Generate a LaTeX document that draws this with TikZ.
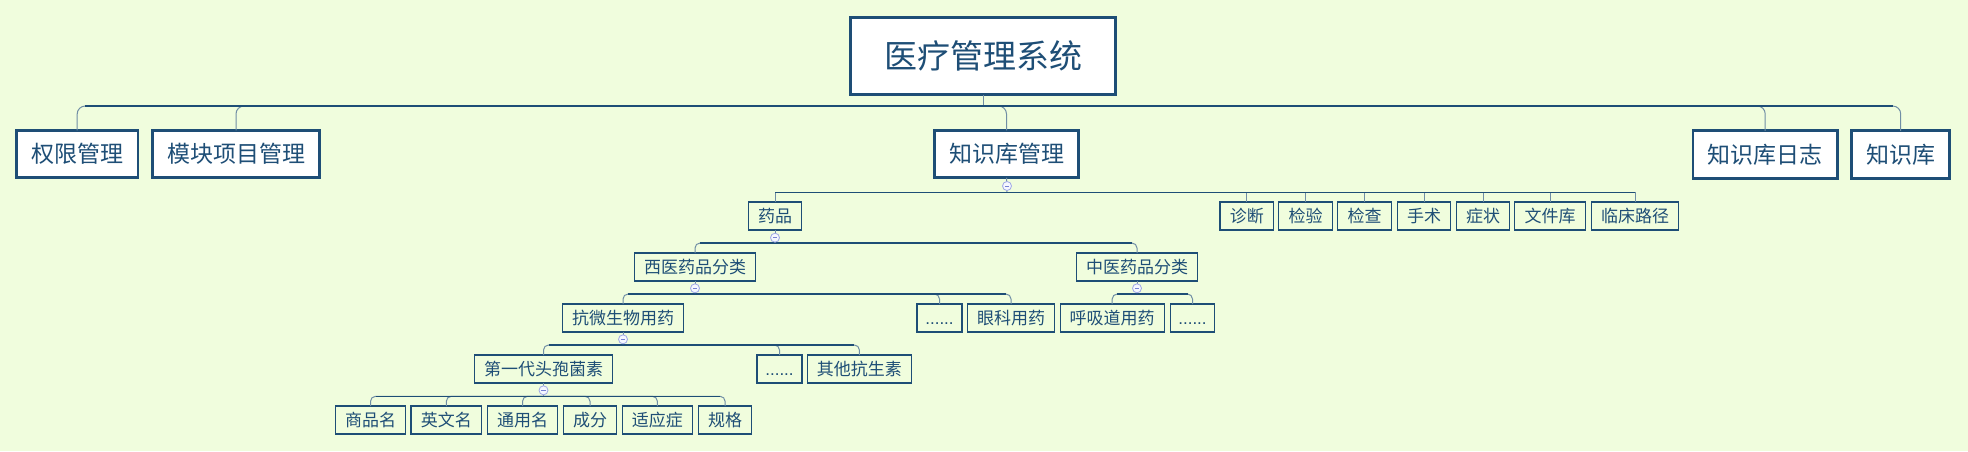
\documentclass[tikz,border=0pt]{standalone}
\usepackage{fontspec}
\setmainfont{Noto Sans CJK SC}
\newfontfamily\latinf{Liberation Sans}
\usetikzlibrary{calc}
\definecolor{bg}{RGB}{240,253,221}
\definecolor{dk}{RGB}{30,78,118}
\definecolor{stemc}{RGB}{112,142,165}
\definecolor{tgl}{RGB}{160,168,230}
\definecolor{tglfill}{RGB}{245,247,255}
\definecolor{tglbar}{RGB}{120,130,210}
\begin{document}
\begin{tikzpicture}[x=1pt,y=-1pt,
  rootbox/.style={draw=dk,line width=3pt,fill=white,text=dk,font=\fontsize{33}{40}\selectfont,minimum width=265pt,minimum height=77pt,inner sep=0pt,outer sep=0pt},
  topbox/.style={draw=dk,line width=2.6pt,fill=white,text=dk,font=\fontsize{23}{28}\selectfont,minimum height=47.5pt,inner sep=0pt,outer sep=0pt},
  leafbox/.style={draw=dk,line width=1.1pt,text=dk,font=\fontsize{17}{20}\selectfont,minimum height=28pt,inner sep=0pt,outer sep=0pt,text height=15pt,text depth=2pt},
  stem/.style={draw=stemc,line width=1pt},
  bus/.style={draw=dk,line width=1.5pt},
  toggle/.style={circle,draw=tgl,fill=tglfill,line width=0.8pt,minimum size=9pt,inner sep=0pt,
    path picture={\draw[tglbar,line width=1pt] ([xshift=-2.2pt]path picture bounding box.center) -- ([xshift=2.2pt]path picture bounding box.center);}},
]
\fill[bg] (0,0) rectangle (1968,451);
\useasboundingbox (0,0) rectangle (1968,451);

% ---------- nodes ----------
\node[rootbox] (root) at (983,56) {医疗管理系统};

\node[topbox,minimum width=121.5pt] (qx)  at (77.2,154)  {权限管理};
\node[topbox,minimum width=166.5pt] (mk)  at (236,154)   {模块项目管理};
\node[topbox,minimum width=144.5pt] (zsk) at (1006.5,154){知识库管理};
\node[topbox,minimum width=144.5pt] (rz)  at (1765.2,154.5){知识库日志};
\node[topbox,minimum width=98pt]    (zs)  at (1900.7,154.5){知识库};

\node[leafbox,minimum width=53.7pt] (yp)   at (775,216)    {药品};
\node[leafbox,minimum width=53.7pt] (zd)   at (1246.8,216) {诊断};
\node[leafbox,minimum width=53.7pt] (jy)   at (1305.5,216) {检验};
\node[leafbox,minimum width=53.7pt] (jc)   at (1364.5,216) {检查};
\node[leafbox,minimum width=53.7pt] (ss)   at (1424,216)   {手术};
\node[leafbox,minimum width=53.7pt] (zz)   at (1483,216)   {症状};
\node[leafbox,minimum width=70.7pt] (wjk)  at (1550,216)   {文件库};
\node[leafbox,minimum width=87.7pt] (lclj) at (1635,216)   {临床路径};

\node[leafbox,minimum width=121.7pt] (xy) at (695,267)  {西医药品分类};
\node[leafbox,minimum width=121.2pt] (zy) at (1137,267) {中医药品分类};

\node[leafbox,minimum width=121.7pt] (kw) at (623,318)    {抗微生物用药};
\node[leafbox,minimum width=45pt]    (d1) at (939.5,318)  {\latinf ......};
\node[leafbox,minimum width=87.8pt]  (yk) at (1011,318)   {眼科用药};
\node[leafbox,minimum width=104.3pt] (hx) at (1112.2,318) {呼吸道用药};
\node[leafbox,minimum width=44.3pt]  (d2) at (1192.5,318) {\latinf ......};

\node[leafbox,minimum width=138.7pt] (dyd) at (543.5,369) {第一代头孢菌素};
\node[leafbox,minimum width=45pt]    (d3)  at (779.5,369) {\latinf ......};
\node[leafbox,minimum width=104.7pt] (qt)  at (859.4,369) {其他抗生素};

\node[leafbox,minimum width=70.7pt] (spm) at (370.5,420) {商品名};
\node[leafbox,minimum width=70.7pt] (ywm) at (446.3,420) {英文名};
\node[leafbox,minimum width=70.6pt] (tym) at (522.5,420) {通用名};
\node[leafbox,minimum width=53.5pt] (cf)  at (590,420)   {成分};
\node[leafbox,minimum width=70.2pt] (syz) at (657.4,420) {适应症};
\node[leafbox,minimum width=53.5pt] (gg)  at (725.1,420) {规格};

% ---------- bus points ----------
\coordinate (rootbus) at (983,106);
\coordinate (zskbus)  at (1007,192.3);
\coordinate (ypbus)   at (775,243);
\coordinate (xybus)   at (695,294);
\coordinate (zybus)   at (1137,294);
\coordinate (kwbus)   at (623,345);
\coordinate (dydbus)  at (543.5,396.3);

% ---------- connectors ----------
\draw[stem] (root.south) -- (rootbus);
\foreach \c in {qx,mk,zsk,rz,zs} \draw[stem,rounded corners=8pt] (\c.north) |- (rootbus);
\draw[bus] ($(qx.north |- rootbus)+(8,0)$) -- ($(zs.north |- rootbus)+(-8,0)$);

\draw[stem] (zsk.south) -- (zskbus);
\foreach \c in {yp,zd,jy,jc,ss,zz,wjk,lclj} \draw[stem] (\c.north) |- (zskbus);
\draw[bus] (yp.north |- zskbus) -- (lclj.north |- zskbus);

\draw[stem] (yp.south) -- (ypbus);
\foreach \c in {xy,zy} \draw[stem,rounded corners=5pt] (\c.north) |- (ypbus);
\draw[bus] ($(xy.north |- ypbus)+(5,0)$) -- ($(zy.north |- ypbus)+(-5,0)$);

\draw[stem] (xy.south) -- (xybus);
\foreach \c in {kw,d1,yk} \draw[stem,rounded corners=5pt] (\c.north) |- (xybus);
\draw[bus] ($(kw.north |- xybus)+(5,0)$) -- ($(yk.north |- xybus)+(-5,0)$);

\draw[stem] (zy.south) -- (zybus);
\foreach \c in {hx,d2} \draw[stem,rounded corners=5pt] (\c.north) |- (zybus);
\draw[bus] ($(hx.north |- zybus)+(5,0)$) -- ($(d2.north |- zybus)+(-5,0)$);

\draw[stem] (kw.south) -- (kwbus);
\foreach \c in {dyd,d3,qt} \draw[stem,rounded corners=5pt] (\c.north) |- (kwbus);
\draw[bus] ($(dyd.north |- kwbus)+(5,0)$) -- ($(qt.north |- kwbus)+(-5,0)$);

\draw[stem] (dyd.south) -- (dydbus);
\foreach \c in {spm,ywm,tym,cf,syz,gg} \draw[stem,rounded corners=5pt] (\c.north) |- (dydbus);
\draw[bus] ($(spm.north |- dydbus)+(5,0)$) -- ($(gg.north |- dydbus)+(-5,0)$);

% ---------- collapse toggles ----------
\node[toggle] (tzsk) at (1007,186)    {};
\node[toggle] (typ)  at (775,237.7)   {};
\node[toggle] (txy)  at (695,288.3)   {};
\node[toggle] (tzy)  at (1137,288.3)  {};
\node[toggle] (tkw)  at (623,339.3)   {};
\node[toggle] (tdyd) at (543.5,390.3) {};
\end{tikzpicture}
\end{document}
